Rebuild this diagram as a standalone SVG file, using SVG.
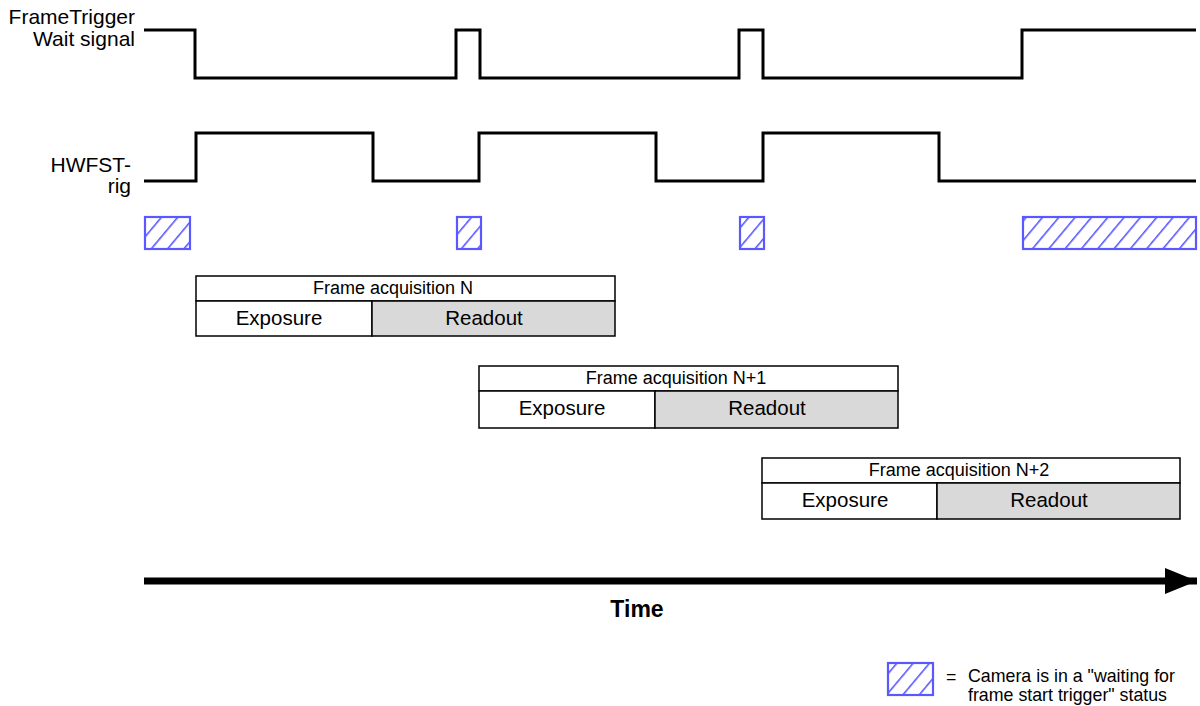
<svg xmlns="http://www.w3.org/2000/svg" width="1200" height="706" viewBox="0 0 1200 706">
<style>
text{font-family:"Liberation Sans",Arial,sans-serif;fill:#000}
.lbl{font-size:21px;text-anchor:end}
.wave{fill:none;stroke:#000;stroke-width:3;stroke-linejoin:miter}
.hatch{fill:url(#hp);stroke:#5959ff;stroke-width:2.2}
.box{fill:#fff;stroke:#000;stroke-width:1.5}
.ro{fill:#d9d9d9;stroke:#000;stroke-width:1.5}
.hd{font-size:18px;text-anchor:middle}
.cell{font-size:20.5px;text-anchor:middle}
.leg{font-size:17.8px}
</style>
<defs>
<pattern id="hp" patternUnits="userSpaceOnUse" width="12.5" height="12.5" patternTransform="rotate(40)">
<rect width="12.5" height="12.5" fill="#fff"/>
<line x1="0" y1="0" x2="0" y2="12.5" stroke="#5959ff" stroke-width="3.2"/>
</pattern>
<marker id="ah" markerUnits="userSpaceOnUse" markerWidth="34" markerHeight="26" refX="32" refY="13" orient="auto">
<polygon points="0,0 32,13 0,26" fill="#000"/>
</marker>
</defs>
<g id="labels">
<text class="lbl" x="135" y="24">FrameTrigger</text>
<text class="lbl" x="135" y="46">Wait signal</text>
<text class="lbl" x="131" y="172">HWFST-</text>
<text class="lbl" x="131" y="193">rig</text>
</g>
<g id="wait-signal">
<polyline class="wave" points="144,30 195,30 195,78 456,78 456,30 480,30 480,78 739,78 739,30 763,30 763,78 1022,78 1022,30 1196,30"/>
</g>
<g id="hwfst-rig">
<polyline class="wave" points="144,181 196,181 196,133 373,133 373,181 479,181 479,133 656,133 656,181 763,181 763,133 939,133 939,181 1196,181"/>
</g>
<g id="waiting-states">
<rect class="hatch" x="145" y="217" width="45" height="32"/>
<rect class="hatch" x="457" y="217" width="24" height="32"/>
<rect class="hatch" x="740" y="217" width="24" height="32"/>
<rect class="hatch" x="1023" y="217" width="173" height="32"/>
</g>
<g id="frame-n">
<rect class="box" x="196" y="276" width="419" height="25"/>
<rect class="box" x="196" y="301" width="176" height="35"/>
<rect class="ro" x="372" y="301" width="243" height="35"/>
<text class="hd" x="393" y="294">Frame acquisition N</text>
<text class="cell" x="279" y="325">Exposure</text>
<text class="cell" x="484" y="325">Readout</text>
</g>
<g id="frame-n1">
<rect class="box" x="479" y="366" width="419" height="25"/>
<rect class="box" x="479" y="391" width="176" height="37"/>
<rect class="ro" x="655" y="391" width="243" height="37"/>
<text class="hd" x="676" y="384">Frame acquisition N+1</text>
<text class="cell" x="562" y="415">Exposure</text>
<text class="cell" x="767" y="415">Readout</text>
</g>
<g id="frame-n2">
<rect class="box" x="762" y="458" width="418" height="25"/>
<rect class="box" x="762" y="483" width="175" height="36"/>
<rect class="ro" x="937" y="483" width="243" height="36"/>
<text class="hd" x="959" y="476">Frame acquisition N+2</text>
<text class="cell" x="845" y="507">Exposure</text>
<text class="cell" x="1049" y="507">Readout</text>
</g>
<g id="connectors">
<line x1="144" y1="581" x2="1197" y2="581" stroke="#000" stroke-width="7" marker-end="url(#ah)"/>
</g>
<g id="time-label">
<text x="637" y="617" font-size="23" font-weight="bold" text-anchor="middle">Time</text>
</g>
<g id="legend">
<rect class="hatch" x="888" y="663" width="45" height="32"/>
<text class="leg" x="946" y="683">=</text>
<text class="leg" x="968" y="682">Camera is in a "waiting for</text>
<text class="leg" x="968" y="701">frame start trigger" status</text>
</g>
</svg>
